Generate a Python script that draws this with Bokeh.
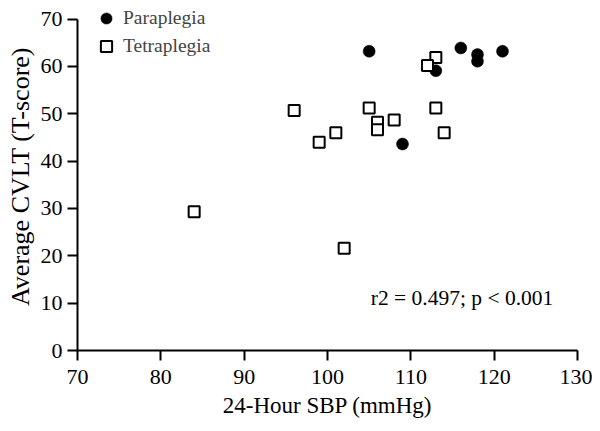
from bokeh.plotting import figure
from bokeh.models import Range1d, Legend, LegendItem, Label, FixedTicker, ColumnDataSource, Title
from bokeh.embed import file_html
from bokeh.resources import INLINE

# ---- data ----
para_sbp = [105, 116, 118, 118, 121, 113, 109]
para_cvlt = [63.2, 63.9, 62.5, 61.1, 63.2, 59.1, 43.6]

tetra_sbp = [113, 112, 96, 105, 113, 108, 106, 106, 101, 99, 114, 84, 102]
tetra_cvlt = [61.9, 60.2, 50.7, 51.2, 51.2, 48.7, 48.2, 46.6, 46.0, 44.0, 46.0, 29.3, 21.6]

x_ticks = [70, 80, 90, 100, 110, 120, 130]
y_ticks = [0, 10, 20, 30, 40, 50, 60, 70]

series_labels = ["Paraplegia", "Tetraplegia"]
x_title = "24-Hour SBP (mmHg)"
y_title = "Average CVLT (T-score)"
stat_text = "r2 = 0.497; p < 0.001"

FONT = "Liberation Serif"

p = figure(width=592, height=423, output_backend="svg", toolbar_location=None,
           x_range=Range1d(70, 130), y_range=Range1d(0, 73.5),
           min_border_left=77, min_border_right=15, min_border_top=2, min_border_bottom=73)

p.outline_line_color = None
p.xgrid.visible = False
p.ygrid.visible = False
p.background_fill_color = "white"
p.border_fill_color = "white"

for ax in (p.xaxis[0], p.yaxis[0]):
    ax.axis_line_width = 2
    ax.axis_line_color = "black"
    ax.major_tick_line_width = 2
    ax.major_tick_line_color = "black"
    ax.major_tick_out = 10
    ax.major_tick_in = 0
    ax.minor_tick_line_color = None
    ax.major_label_text_font = FONT
    ax.major_label_text_font_size = "22px"
    ax.major_label_text_color = "black"
    ax.axis_label_text_font = FONT
    ax.axis_label_text_font_size = "23px"
    ax.axis_label_text_font_style = "normal"
    ax.axis_label_text_color = "black"

p.xaxis[0].ticker = FixedTicker(ticks=x_ticks)
p.yaxis[0].ticker = FixedTicker(ticks=y_ticks)
p.yaxis[0].bounds = (0, 70)
p.xaxis[0].axis_label = x_title
p.xaxis[0].major_label_standoff = 9
p.xaxis[0].axis_label_standoff = 6
p.yaxis[0].major_label_standoff = 5

# y-axis title as a side title
p.add_layout(Title(text=y_title, align="center", offset=0, standoff=6,
                   text_font=FONT, text_font_size="26px", text_font_style="normal",
                   text_color="black"), "left")

para_src = ColumnDataSource(dict(x=para_sbp, y=para_cvlt))
tetra_src = ColumnDataSource(dict(x=tetra_sbp, y=tetra_cvlt))

r_para = p.scatter("x", "y", source=para_src, marker="circle", size=12,
                   fill_color="black", line_color="black", line_width=0.5)
r_tetra = p.scatter("x", "y", source=tetra_src, marker="square", size=11,
                    fill_color="white", line_color="black", line_width=2)

legend = Legend(items=[LegendItem(label=series_labels[0], renderers=[r_para]),
                       LegendItem(label=series_labels[1], renderers=[r_tetra])],
                location=(15, 290), padding=0, margin=0, spacing=0,
                glyph_width=28, glyph_height=28, label_standoff=3,
                label_text_font=FONT, label_text_font_size="19.5px",
                border_line_alpha=0, background_fill_alpha=0)
p.add_layout(legend, "center")

p.add_layout(Label(x=105.2, y=11.0, text=stat_text, text_font=FONT,
                   text_font_size="21.5px", text_baseline="middle", text_color="black"))

open("out.html", "w").write(file_html(p, INLINE))
